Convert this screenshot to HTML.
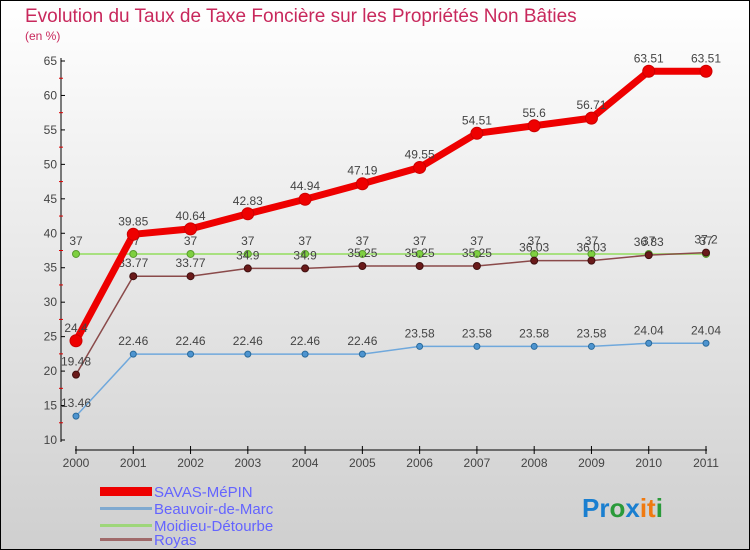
<!DOCTYPE html>
<html><head><meta charset="utf-8"><style>
body{margin:0;width:750px;height:550px;overflow:hidden;font-family:"Liberation Sans",sans-serif}
#wrap{position:absolute;left:0;top:0;width:748px;height:548px;border:1px solid #000;background:linear-gradient(#fff,#cfcfcf)}
</style></head><body>
<div id="wrap">
<svg id="chart" width="750" height="550" style="position:absolute;left:-1px;top:-1px">
<text x="25" y="22" font-size="19" fill="#c8285c">Evolution du Taux de Taxe Foncière sur les Propriétés Non Bâties</text>
<text x="25" y="40" font-size="12" fill="#c8285c">(en %)</text>
<g id="axes"></g><g id="series"></g>
<g>
<rect x="100" y="487" width="52" height="9" fill="#e00"/>
<text x="154" y="497" font-size="15" fill="#6464ff">SAVAS-MéPIN</text>
<rect x="100" y="507" width="52" height="3" fill="#7fa9d0"/>
<text x="154" y="514" font-size="15" fill="#6464ff">Beauvoir-de-Marc</text>
<rect x="100" y="524" width="52" height="3" fill="#9ed67a"/>
<text x="154" y="531" font-size="15" fill="#6464ff">Moidieu-Détourbe</text>
<rect x="100" y="538" width="52" height="3" fill="#a06a6a"/>
<text x="154" y="545" font-size="15" fill="#6464ff">Royas</text>
</g>
<text x="582" y="517" font-size="26" font-weight="bold"><tspan fill="#1a7fd0">Pr</tspan><tspan fill="#2a9a3a">o</tspan><tspan fill="#1a7fd0">x</tspan><tspan fill="#f07a10">it</tspan><tspan fill="#2a9a3a">i</tspan></text>
</svg></div>
<script>
const years=[2000,2001,2002,2003,2004,2005,2006,2007,2008,2009,2010,2011];
const yTicks=[10,15,20,25,30,35,40,45,50,55,60,65];
const savas=[24.4,39.85,40.64,42.83,44.94,47.19,49.55,54.51,55.6,56.71,63.51,63.51];
const beauvoir=[13.46,22.46,22.46,22.46,22.46,22.46,23.58,23.58,23.58,23.58,24.04,24.04];
const moidieu=[37,37,37,37,37,37,37,37,37,37,37,37];
const royas=[19.48,33.77,33.77,34.9,34.9,35.25,35.25,35.25,36.03,36.03,36.83,37.2];
const NS="http://www.w3.org/2000/svg";
const xs=i=>76+i*(630/11), ys=v=>440-(v-10)*(379/55);
function mk(tag,at,parent){const e=document.createElementNS(NS,tag);for(const k in at)e.setAttribute(k,at[k]);parent.appendChild(e);return e;}
const ax=document.getElementById('axes');
let a=mk('line',{x1:61,y1:58,x2:61,y2:442,stroke:'#000'},ax);


a=mk('line',{x1:75,y1:450,x2:707,y2:450,stroke:'#000'},ax);


yTicks.forEach((t,i)=>{const y=ys(t);mk('line',{x1:61,y1:y,x2:65,y2:y,stroke:'#000'},ax);
 if(i<yTicks.length-1)mk('line',{x1:59,y1:ys(t+2.5),x2:63,y2:ys(t+2.5),stroke:'#d00'},ax);
 const tx=mk('text',{x:57,y:y+4,'font-size':12,'text-anchor':'end',fill:'#444'},ax);tx.textContent=t;
 
 });
years.forEach((yr,i)=>{const x=xs(i);mk('line',{x1:x,y1:446,x2:x,y2:454,stroke:'#000'},ax);
 const tx=mk('text',{x:x,y:467,'font-size':12,'text-anchor':'middle',fill:'#444'},ax);tx.textContent=yr;
 
 });
const sg=document.getElementById('series');
function draw(vals,name,color,w,r,dot,dotStroke){
 const g=mk('g',{},sg);
 
 
 const pl=mk('polyline',{points:vals.map((v,i)=>xs(i)+','+ys(v)).join(' '),fill:'none',stroke:color,'stroke-width':w,'stroke-linejoin':'round'},g);
 
 
 vals.forEach((v,i)=>{const c=mk('circle',{cx:xs(i),cy:ys(v),r:r,fill:dot,stroke:dotStroke,'stroke-width':1},g);
  
  
  const t=mk('text',{x:xs(i),y:ys(v)-9,'font-size':12,'text-anchor':'middle',fill:'#444'},g);t.textContent=v;
  
  });
}
draw(moidieu,'moidieu','#a8e080',2,3.5,'#7ed040','#5a9a30');
draw(beauvoir,'beauvoir','#6fa8dc',1.5,3,'#4d94d0','#2a6a9a');
draw(royas,'royas','#8a4a4a',1.5,3.5,'#6a1a1a','#401010');
draw(savas,'savas','#e00',7,6,'#e00','#c00');
</script></body></html>
